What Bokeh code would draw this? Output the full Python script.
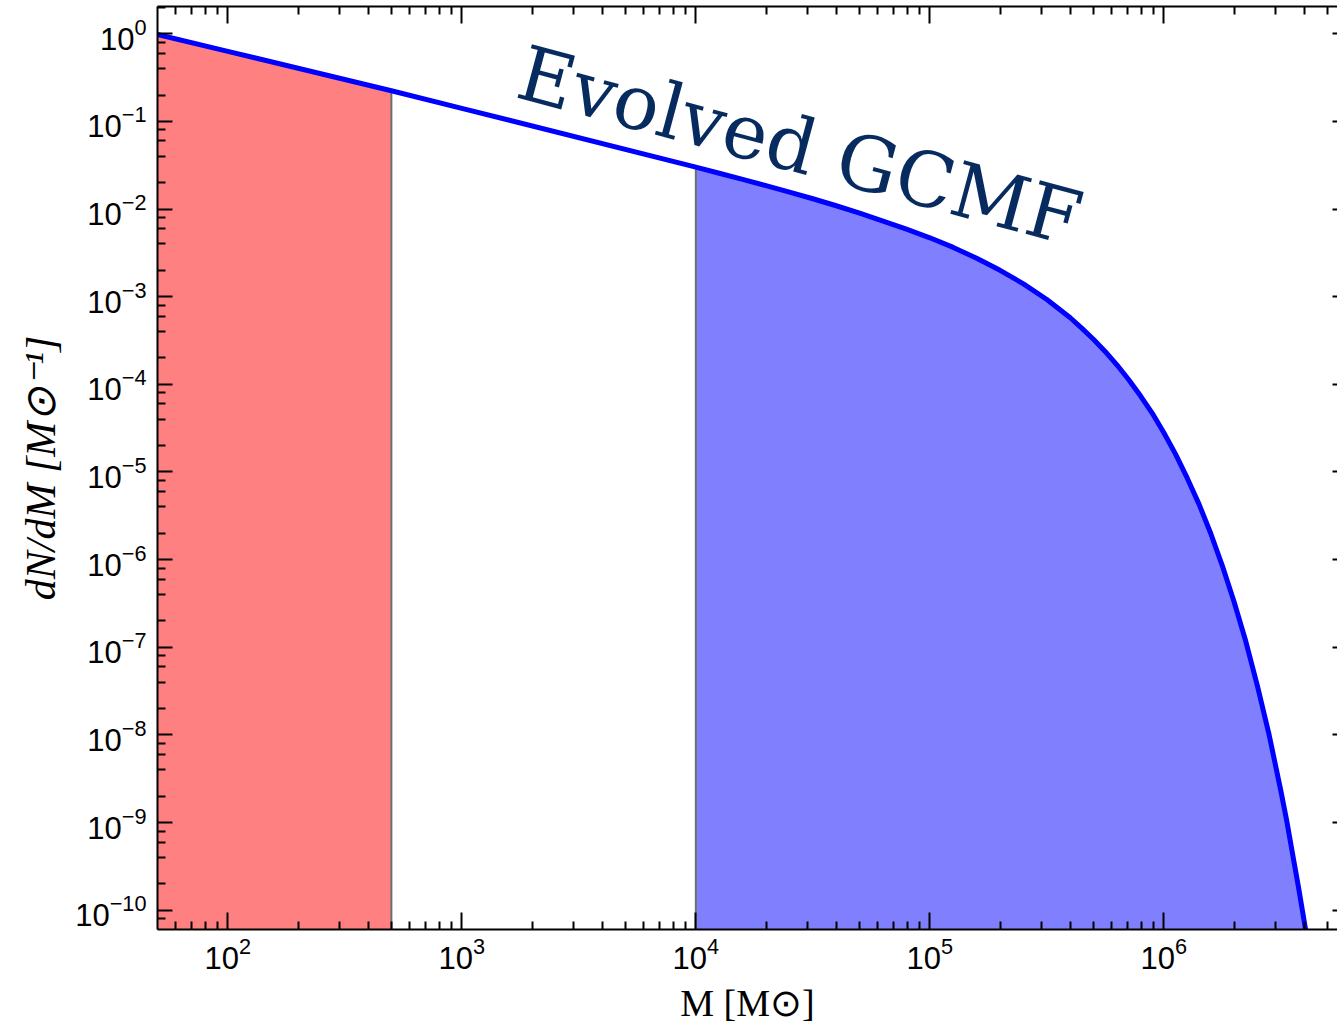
from bokeh.plotting import figure
from bokeh.models import LogAxis, FixedTicker, Label
from bokeh.embed import file_html
from bokeh.resources import INLINE

# ---- data ----
mass = [50, 100, 500, 1000, 1.0e4, 1.259e4, 1.585e4, 1.995e4, 2.512e4, 3.162e4,
        3.981e4, 5.012e4, 6.310e4, 7.943e4, 1.0e5, 1.259e5, 1.585e5, 1.995e5,
        2.512e5, 3.162e5, 3.981e5, 4.467e5, 5.012e5, 5.623e5, 6.310e5, 7.079e5,
        7.943e5, 8.913e5, 1.0e6, 1.122e6, 1.259e6, 1.413e6, 1.585e6, 1.778e6,
        1.995e6, 2.239e6, 2.512e6, 2.818e6, 3.162e6, 3.350e6, 3.548e6, 3.758e6,
        3.981e6, 4.169e6]
dndm = [0.98, 0.63, 0.224, 0.141, 3.01e-2, 2.56e-2, 2.18e-2, 1.85e-2, 1.56e-2,
        1.31e-2, 1.09e-2, 9.0e-3, 7.3e-3, 5.9e-3, 4.7e-3, 3.65e-3, 2.75e-3,
        2.0e-3, 1.4e-3, 9.3e-4, 5.75e-4, 4.35e-4, 3.25e-4, 2.36e-4, 1.66e-4,
        1.13e-4, 7.4e-5, 4.7e-5, 2.8e-5, 1.6e-5, 8.5e-6, 4.3e-6, 2.0e-6, 8.5e-7,
        3.3e-7, 1.17e-7, 3.6e-8, 1.0e-8, 2.3e-9, 1.05e-9, 4.4e-10, 1.85e-10,
        7.4e-11, 3.5e-11]
red_limits = [50, 500]
blue_start = 1e4
x_major_ticks = [1e2, 1e3, 1e4, 1e5, 1e6]
y_major_ticks = [10.0 ** k for k in range(-10, 1)]
title_text = "Evolved GCMF"
x_title = "M [M\u2299]"
y_title = "dN/dM [M\u2299\u207b\u00b9]"

x_minor_ticks = [m * 10.0 ** k for k in range(1, 7) for m in range(2, 10)]
y_minor_ticks = [m * 10.0 ** k for k in range(-11, 1) for m in (2, 4, 6, 8)]

floor = 1e-12
red_x = [m for m in mass if red_limits[0] <= m <= red_limits[1]]
red_y = [v for m, v in zip(mass, dndm) if red_limits[0] <= m <= red_limits[1]]
blue_x = [m for m in mass if m >= blue_start]
blue_y = [v for m, v in zip(mass, dndm) if m >= blue_start]

p = figure(width=1337, height=1031, x_axis_type="log", y_axis_type="log",
           x_range=(10 ** 1.6996, 10 ** 6.742), y_range=(10 ** -10.22, 10 ** 0.311),
           output_backend="svg", toolbar_location=None,
           min_border_left=157, min_border_right=0, min_border_top=6,
           min_border_bottom=102)
p.grid.visible = False
p.outline_line_color = None
p.background_fill_color = "white"
p.border_fill_color = "white"

# fills
p.varea(x=red_x, y1=floor, y2=red_y, fill_color="#ff8080")
p.varea(x=blue_x, y1=floor, y2=blue_y, fill_color="#8080ff")
p.segment(x0=[red_x[-1], blue_x[0]], y0=[floor, floor],
          x1=[red_x[-1], blue_x[0]], y1=[red_y[-1], blue_y[0]],
          line_color="#6e6e6e", line_width=2)
p.line(mass, dndm, line_color="#0000ff", line_width=5, line_join="round")

def style(ax, major_in, minor_in, labels=True):
    ax.major_tick_in = major_in
    ax.major_tick_out = 0
    ax.minor_tick_in = minor_in
    ax.minor_tick_out = 0
    ax.major_tick_line_width = 2
    ax.minor_tick_line_width = 2
    ax.major_tick_line_color = "black"
    ax.minor_tick_line_color = "black"
    ax.axis_line_width = 2
    ax.axis_line_color = "black"
    if labels:
        ax.major_label_text_font = "Liberation Sans"
        ax.major_label_text_font_size = "31px"
        ax.major_label_text_color = "black"
        ax.axis_label_text_font = "Liberation Serif"
        ax.axis_label_text_font_size = "38px"
        ax.axis_label_text_color = "black"
    else:
        ax.major_label_text_font_size = "1px"
        ax.major_label_text_alpha = 0
        ax.major_label_standoff = 0

xa = p.xaxis[0]
ya = p.yaxis[0]
xa.ticker = FixedTicker(ticks=x_major_ticks, minor_ticks=x_minor_ticks)
ya.ticker = FixedTicker(ticks=y_major_ticks, minor_ticks=y_minor_ticks)
style(xa, 17, 8)
style(ya, 15, 8)
xa.major_label_standoff = 7
ya.major_label_standoff = 11
xa.axis_label = x_title
ya.axis_label = y_title
xa.axis_label_text_font_style = "normal"
ya.axis_label_text_font_style = "italic"
ya.axis_label_text_font_size = "42px"
xa.axis_label_standoff = 10
ya.axis_label_standoff = 8

top = LogAxis(ticker=FixedTicker(ticks=x_major_ticks, minor_ticks=x_minor_ticks))
style(top, 17, 8, labels=False)
p.add_layout(top, "above")
right = LogAxis(ticker=FixedTicker(ticks=y_major_ticks, minor_ticks=y_minor_ticks))
style(right, 5, 0, labels=False)
right.axis_line_color = None
p.add_layout(right, "right")

# curve annotation
p.add_layout(Label(x=1780, y=0.375, text=title_text, angle=-15, angle_units="deg",
                   text_align="left", text_baseline="alphabetic",
                   text_font="DejaVu Serif", text_font_size="76px",
                   text_color="#072b5f"))

open("out.html", "w").write(file_html(p, INLINE))
